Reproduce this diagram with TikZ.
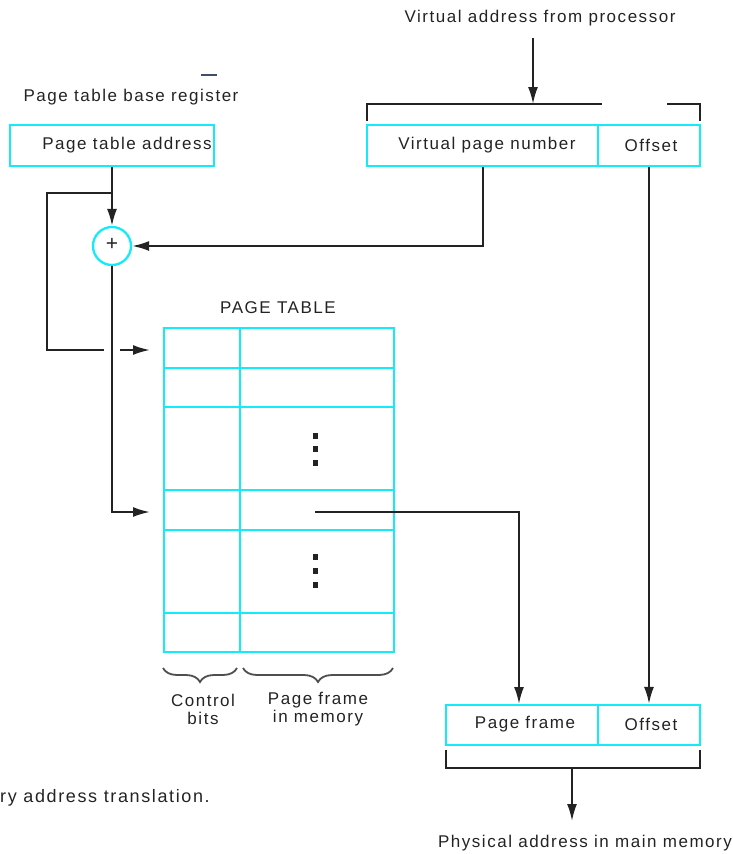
\documentclass[tikz,border=0pt]{standalone}
\usepackage{fontspec}
\setmainfont{Liberation Sans}[LetterSpace=9]
\usetikzlibrary{arrows.meta,decorations.pathreplacing}
\definecolor{cy}{RGB}{20,235,250}
\definecolor{ink}{RGB}{35,35,35}
\definecolor{markcol}{RGB}{60,80,110}
\begin{document}
\begin{tikzpicture}[x=1pt,y=-1pt,
  txt/.style={inner sep=0pt,text=ink,font=\fontsize{17}{19}\selectfont},
  box/.style={draw=cy,line width=2.3pt,minimum height=41pt,inner sep=0pt},
  wire/.style={draw=ink,line width=2pt},
  arr/.style={wire,-{Latex[length=17pt,width=10pt]}},
  brc/.style={draw=ink!80,line width=1.8pt,decorate,decoration={brace,amplitude=14pt}}]
\path[use as bounding box] (0,0) rectangle (733,854);

% top labels
\node[txt] (vafp) at (540,18) {Virtual address from processor};
\node[txt] (ptbr) at (131,97) {Page table base register};
\draw[markcol,line width=1.2pt] (201,75) -- (217,75);

% virtual address boxes
\node[box,minimum width=231pt] (vpn) at (482.5,145.5) {};
\node[box,minimum width=102pt] (off1) at (649,145.5) {};
\node[txt] at (487,145) {Virtual page number};
\node[txt] at (651,145) {Offset};

% top bracket
\coordinate (vtop) at (533,38);
\coordinate (vbr) at (533,104);
\draw[wire] (367,121) -- (367,104) -- (602,104);
\draw[wire] (667,104) -- (700,104) -- (700,121);
\draw[arr] (vtop) -- (vbr);

% page table address
\node[box,minimum width=204pt] (pta) at (112,145.5) {};
\node[txt] at (127,145) {Page table address};

% adder
\node[circle,draw=cy,line width=2.3pt,minimum size=38pt,inner sep=0pt] (plus) at (112,246) {};
\node[txt,font=\fontsize{21}{21}\selectfont] at (112,244) {+};

\coordinate (j1) at (112,193);
\draw[arr] (pta.south) -- (plus.north);
\draw[wire] (j1) -- (47,193) -- (47,350) -- (104,350);
\coordinate (in1) at (150,350);
\draw[arr] (120,350) -- (in1);
\coordinate (in2) at (150,512);
\draw[arr] (plus.south) |- (in2);
\draw[arr] (vpn.south) |- (plus.east);

% page table
\node[txt] (ptt) at (278,308) {PAGE TABLE};
\draw[cy,line width=2.3pt] (164,328) rectangle (394,652);
\draw[cy,line width=2.3pt] (240,328) -- (240,652);
\foreach \yy in {368,407,490,530,613} \draw[cy,line width=2.3pt] (164,\yy) -- (394,\yy);
\foreach \yy in {436,449,463,557,571,585} \fill[ink] (313,\yy-3) rectangle (318,\yy+3);

% braces
\draw[brc] (237,668) -- (163,668);
\draw[brc] (393,668) -- (243,668);
\node[txt,align=center,font=\fontsize{17}{18}\selectfont] at (203,709) {Control\\bits};
\node[txt,align=center,font=\fontsize{17}{18}\selectfont] at (318,709) {Page frame\\in memory};

% physical address
\node[box,minimum width=152pt,minimum height=40pt] (pf) at (522,725) {};
\node[box,minimum width=102pt,minimum height=40pt] (off2) at (649,725) {};
\node[txt] at (525,724) {Page frame};
\node[txt] at (651,724) {Offset};

\coordinate (pte) at (315,512);
\draw[arr] (pte) -- (519,512) -- (519,704);
\draw[arr] (off1.south) -- (off2.north);

\draw[wire] (446,750) -- (446,768) -- (700,768) -- (700,750);
\coordinate (pbr) at (572,768);
\coordinate (pout) at (572,821);
\draw[arr] (pbr) -- (pout);
\node[txt] (phys) at (585,843) {Physical address in main memory};

\node[txt,anchor=west,font=\fontsize{18}{20}\selectfont] (cap) at (0,798) {ry address translation.};
\end{tikzpicture}
\end{document}
